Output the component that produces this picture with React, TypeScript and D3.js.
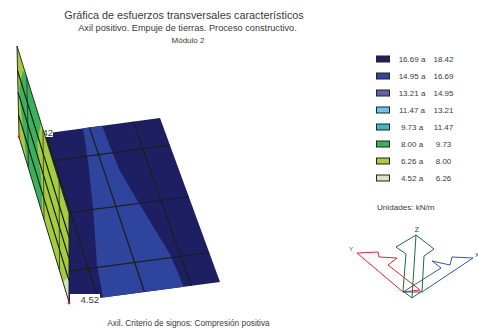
import React from "react";
import * as d3 from "d3";

const FONT = "'Liberation Sans', Arial, sans-serif";
const legendRanges = [
  ["16.69", "18.42"], ["14.95", "16.69"], ["13.21", "14.95"], ["11.47", "13.21"],
  ["9.73", "11.47"], ["8.00", "9.73"], ["6.26", "8.00"], ["4.52", "6.26"],
];
const legendColors = ["#1e1f63", "#2f449c", "#5c63ac", "#6cc4ee", "#37bcc0", "#3cb15c", "#a3cc3f", "#d3e6c4"];
const meshU = [0.19, 0.5, 0.81];
const meshV = [0.165, 0.48, 0.82];
const wallH = [0.24, 0.49, 0.73];
type P = [number, number];
// floor band 14.95–16.69 in panel coordinates
const floorBand: P[] = [[0.454, 0], [0.41, 0.217], [0.343, 0.482], [0.253, 0.806], [0.225, 1], [0.76, 1], [0.745, 0.8], [0.656, 0.47], [0.604, 0.264], [0.595, 0.127], [0.589, 0]];
// wall bands in panel coordinates
const wallGreen: P[] = [[0.16, 0], [0.106, 0.21], [0.054, 0.4], [0.03, 0.59], [0.11, 0.93], [0.18, 1], [0.46, 1], [0.384, 0.64], [0.396, 0.48], [0.45, 0.4], [0.464, 0.2], [0.46, 0]];
const wallPale: P[] = [[0.88, 0], [1, 0], [1, 0.29]];
// triad outlines
const axisY: P[] = [[63, 77], [17, 38], [38, 37], [39, 42], [57, 43], [48, 50], [80, 75]];
const axisX: P[] = [[82, 77], [133, 43], [112, 42], [110, 50], [92, 46], [101, 53], [63, 77]];
const axisZ: P[] = [[72, 83], [63, 76], [66, 39], [56, 32], [76, 20], [94, 34], [84, 41], [82, 76]];
const axisZStem: P[] = [[72, 83], [76, 20]];

const x = d3.scaleLinear().domain([0, 1]);
function quad(a: P, b: P, c: P, d: P) {
  // a=(0,0) b=(1,0) c=(1,1) d=(0,1)
  return ([u, v]: P): P => {
    const lx = d3.scaleLinear().domain([0, 1]).range([a[0], d[0]])(v);
    const ly = d3.scaleLinear().domain([0, 1]).range([a[1], d[1]])(v);
    const rx = d3.scaleLinear().domain([0, 1]).range([b[0], c[0]])(v);
    const ry = d3.scaleLinear().domain([0, 1]).range([b[1], c[1]])(v);
    return [x.range([lx, rx])(u), x.range([ly, ry])(u)];
  };
}
const floor = quad([19, 137], [160, 118], [220, 282], [69, 302]);
const wall = quad([19, 137], [69, 302], [69, 213], [17, 46]);
const line = d3.line<P>();
const poly = (pts: P[], f: (p: P) => P) => line(pts.map(f)) + "Z";
const seg = (f: (p: P) => P, a: P, b: P) => line([f(a), f(b)])!;
const triX = d3.scaleLinear().domain([0, 100]).range([340, 440]);
const triY = d3.scaleLinear().domain([0, 100]).range([215, 315]);
const tri = ([a, b]: P): P => [triX(a), triY(b)];
const rowY = d3.scaleLinear().domain([0, 7]).range([59, 178]);
const GRID = "#1c1c1c";

export default function App() {
  return (
    <svg width={478} height={331} style={{ position: "absolute", left: 0, top: 0, background: "#fff" }} fontFamily={FONT} fill="#3a3a3a">
      <text x={184} y={19} fontSize={10.8} textAnchor="middle">Gráfica de esfuerzos transversales característicos</text>
      <text x={187.5} y={31} fontSize={9.2} textAnchor="middle">Axil positivo. Empuje de tierras. Proceso constructivo.</text>
      <text x={188} y={43} fontSize={8} textAnchor="middle">Módulo 2</text>

      <path d={poly([[0, 0], [1, 0], [1, 1], [0, 1]], floor)} fill={legendColors[0]} />
      <path d={poly(floorBand, floor)} fill={legendColors[1]} />
      {meshU.map(u => <path key={u} d={seg(floor, [u, 0], [u, 1])} stroke={GRID} strokeWidth={1.2} fill="none" />)}
      {meshV.map(v => <path key={v} d={seg(floor, [0, v], [1, v])} stroke={GRID} strokeWidth={1.2} fill="none" />)}
      <rect x={30} y={127} width={23} height={10} fill="#fff" />
      <text x={53} y={136} fontSize={9.5} textAnchor="end">18.42</text>
      <rect x={70} y={294} width={30} height={10} fill="#fff" />
      <text x={99} y={303} fontSize={9.5} textAnchor="end">4.52</text>

      <path d={poly([[0, 0], [1, 0], [1, 1], [0, 1]], wall)} fill={legendColors[6]} />
      <path d={poly(wallGreen, wall)} fill={legendColors[5]} />
      <path d={poly(wallPale, wall)} fill={legendColors[7]} />
      {meshU.map(u => <path key={u} d={seg(wall, [u, 0], [u, 1])} stroke={GRID} strokeWidth={0.7} fill="none" />)}
      {wallH.map(h => <path key={h} d={seg(wall, [0, h], [1, h])} stroke={GRID} strokeWidth={1.2} fill="none" />)}
      <path d={poly([[0, 0], [1, 0], [1, 1], [0, 1]], wall)} fill="none" stroke={GRID} strokeWidth={0.9} />
      <circle cx={19} cy={137} r={1.4} fill="#e8202a" />
      <circle cx={69} cy={303} r={1.4} fill="#e8202a" />

      {legendRanges.map(([lo, hi], i) => (
        <g key={lo}>
          <rect x={376.5} y={rowY(i) - 3} width={13} height={6} fill={legendColors[i]} stroke="#222" strokeWidth={1} />
          <text x={412} y={rowY(i) + 2.5} fontSize={8} textAnchor="middle">{lo} a</text>
          <text x={443.5} y={rowY(i) + 2.5} fontSize={8} textAnchor="middle">{hi}</text>
        </g>
      ))}
      <text x={377} y={210} fontSize={8.1}>Unidades: kN/m</text>

      <path d={line(axisY.map(tri))! + "Z"} fill="none" stroke="#e8242c" strokeWidth={1} />
      <path d={line(axisX.map(tri))! + "Z"} fill="none" stroke="#3a55a8" strokeWidth={1} />
      <path d={line(axisZ.map(tri))! + "Z"} fill="none" stroke="#1f6b3c" strokeWidth={1} />
      <path d={line(axisZStem.map(tri))!} fill="none" stroke="#1f6b3c" strokeWidth={1} />
      <text x={417} y={232} fontSize={7} textAnchor="middle">Z</text>
      <text x={351} y={251} fontSize={6} textAnchor="middle">Y</text>
      <text x={477} y={257} fontSize={6} textAnchor="middle">X</text>

      <text x={188.5} y={326} fontSize={8.3} textAnchor="middle">Axil. Criterio de signos:  Compresión positiva</text>
    </svg>
  );
}
